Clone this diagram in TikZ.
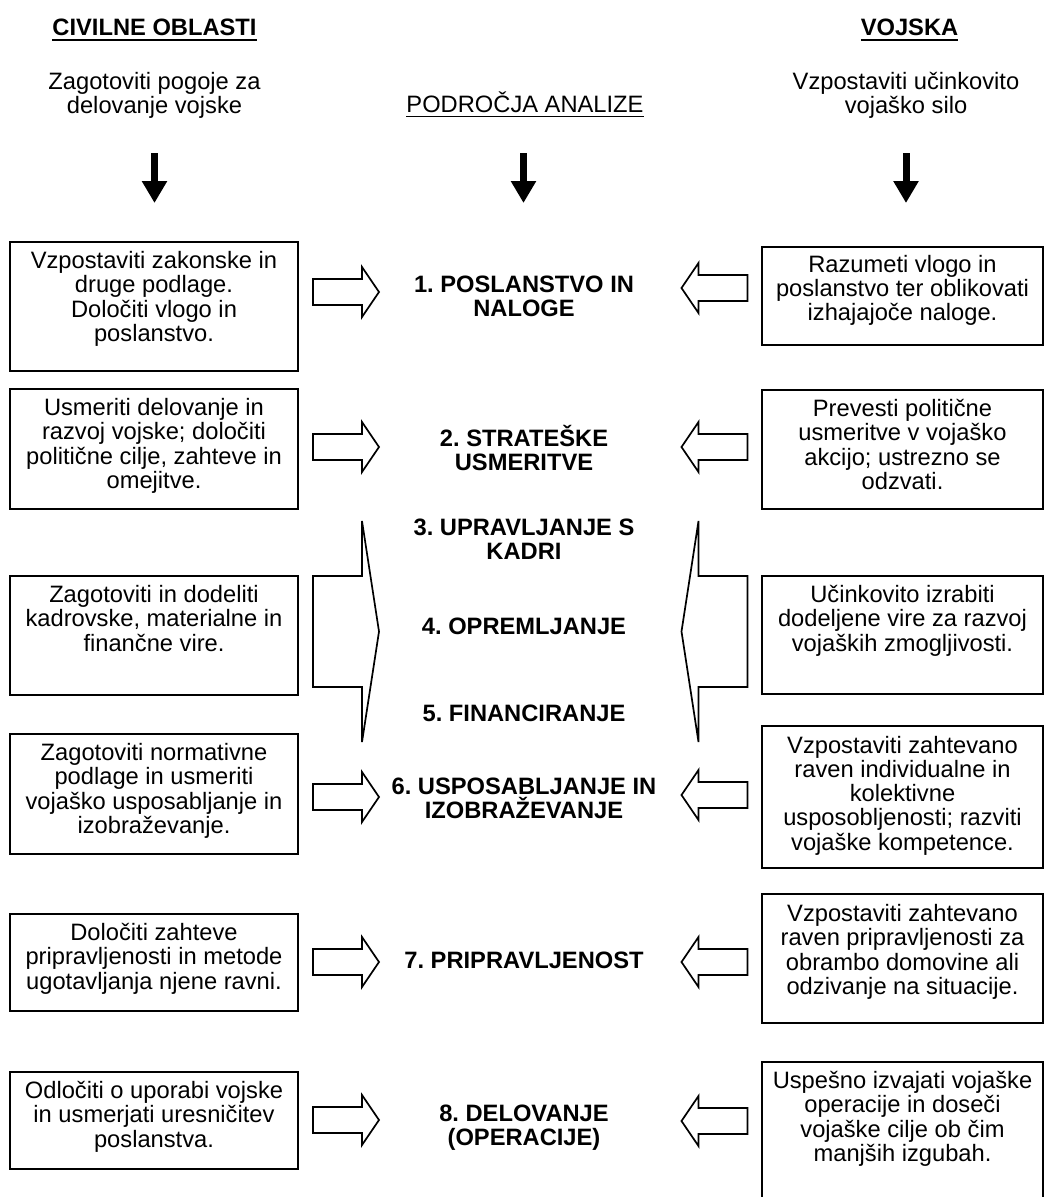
\documentclass[tikz,border=0pt]{standalone}
\usepackage{fontspec}
\setmainfont{Liberation Sans}
\usetikzlibrary{arrows.meta}
\frenchspacing
% body font: 23.7pt on 24.3pt lines, no extra lineskip for accented capitals
\newcommand\diagfont{\fontsize{23.7pt}{24.3pt}\selectfont\lineskiplimit=-100pt\lineskip=0pt\relax}
% first-line strut: puts the first baseline 24pt below the top of a text node
\newcommand\fl{\rule{0pt}{24pt}}
\tikzset{
  frame/.style={draw, line width=1.7pt, inner sep=0pt, outer sep=0pt, anchor=north west},
  txt/.style={inner sep=0pt, outer sep=0pt, align=center, anchor=north, font=\diagfont},
  lbl/.style={txt, font=\diagfont\bfseries},
  blk/.style={draw, line width=1.7pt, line join=miter, fill=white},
  uline/.style={line width=1.7pt},
  down/.style={line width=7pt, -{Triangle[width=24pt,length=22pt]}},
  pics/toright/.style={code={
    \draw[blk] (-33,-13) -- (16,-13) -- (16,-25) -- (33,0) -- (16,25) -- (16,13) -- (-33,13) -- cycle;}},
  pics/bigright/.style={code={
    \draw[blk] (-33,-55.5) -- (16,-55.5) -- (16,-110.5) -- (33,0) -- (16,110.5) -- (16,55.5) -- (-33,55.5) -- cycle;}},
}
\begin{document}
\begin{tikzpicture}[x=1pt, y=-1pt]
\useasboundingbox (0,0) rectangle (1045,1197);

% ---- column headings ----
\node[lbl] (hciv) at (154.5,11) {\fl CIVILNE OBLASTI};
\node[lbl] (hvoj) at (909.5,11) {\fl VOJSKA};
\draw[uline] ([yshift=-29pt]hciv.north west) -- ([yshift=-29pt]hciv.north east);
\draw[uline] ([yshift=-29pt]hvoj.north west) -- ([yshift=-29pt]hvoj.north east);

\node[txt] (gciv) at (154.5,65) {\fl Zagotoviti pogoje za\\delovanje vojske};
\node[txt] (gvoj) at (906,65) {\fl Vzpostaviti učinkovito\\vojaško silo};
\node[txt] (hana) at (525,88) {\fl PODROČJA ANALIZE};
\draw[line width=1.4pt] ([yshift=-28.5pt]hana.north west) -- ([yshift=-28.5pt]hana.north east);

% ---- downward arrows ----
\coordinate (d1s) at (154.5,153); \coordinate (d1e) at (154.5,203);
\coordinate (d2s) at (523.5,153); \coordinate (d2e) at (523.5,203);
\coordinate (d3s) at (906,153);   \coordinate (d3e) at (906,203);
\draw[down] (d1s) -- (d1e);
\draw[down] (d2s) -- (d2e);
\draw[down] (d3s) -- (d3e);

% ---- left column boxes ----
\node[frame, minimum width=288pt, minimum height=129pt] (L1) at (10,242) {};
\node[frame, minimum width=288pt, minimum height=120pt] (L2) at (10,389) {};
\node[frame, minimum width=288pt, minimum height=119pt] (L3) at (10,576) {};
\node[frame, minimum width=288pt, minimum height=120pt] (L4) at (10,734) {};
\node[frame, minimum width=288pt, minimum height=97pt]  (L5) at (10,914) {};
\node[frame, minimum width=288pt, minimum height=97pt]  (L6) at (10,1072) {};

\node[txt] at ([yshift=-2.5pt]L1.north) {\fl Vzpostaviti zakonske in\\druge podlage.\\Določiti vlogo in\\poslanstvo.};
\node[txt] at ([yshift=-2.5pt]L2.north) {\fl Usmeriti delovanje in\\razvoj vojske; določiti\\politične cilje, zahteve in\\omejitve.};
\node[txt] at ([yshift=-2.5pt]L3.north) {\fl Zagotoviti in dodeliti\\kadrovske, materialne in\\finančne vire.};
\node[txt] at ([yshift=-2.5pt]L4.north) {\fl Zagotoviti normativne\\podlage in usmeriti\\vojaško usposabljanje in\\izobraževanje.};
\node[txt] at ([yshift=-2.5pt]L5.north) {\fl Določiti zahteve\\pripravljenosti in metode\\ugotavljanja njene ravni.};
\node[txt] at ([yshift=-2.5pt]L6.north) {\fl Odločiti o uporabi vojske\\in usmerjati uresničitev\\poslanstva.};

% ---- right column boxes ----
\node[frame, minimum width=281pt, minimum height=98pt]  (R1) at (762,247) {};
\node[frame, minimum width=281pt, minimum height=119pt] (R2) at (762,390) {};
\node[frame, minimum width=281pt, minimum height=118pt] (R3) at (762,576) {};
\node[frame, minimum width=281pt, minimum height=142pt] (R4) at (762,726) {};
\node[frame, minimum width=281pt, minimum height=129pt] (R5) at (762,894) {};
\node[frame, minimum width=281pt, minimum height=140pt] (R6) at (762,1062) {};

\node[txt] at ([yshift=-1pt]R1.north) {\fl Razumeti vlogo in\\poslanstvo ter oblikovati\\izhajajoče naloge.};
\node[txt] at ([yshift=-2.5pt]R2.north) {\fl Prevesti politične\\usmeritve v vojaško\\akcijo; ustrezno se\\odzvati.};
\node[txt] at ([yshift=-2.5pt]R3.north) {\fl Učinkovito izrabiti\\dodeljene vire za razvoj\\vojaških zmogljivosti.};
\node[txt] at ([yshift=-3pt]R4.north) {\fl Vzpostaviti zahtevano\\raven individualne in\\kolektivne\\usposobljenosti; razviti\\vojaške kompetence.};
\node[txt] at ([yshift=-3.5pt]R5.north) {\fl Vzpostaviti zahtevano\\raven pripravljenosti za\\obrambo domovine ali\\odzivanje na situacije.};
\node[txt] at ([yshift=-2.5pt]R6.north) {\fl Uspešno izvajati vojaške\\operacije in doseči\\vojaške cilje ob čim\\manjših izgubah.};

% ---- areas of analysis ----
\node[lbl] (a1) at (524,268)  {\fl 1. POSLANSTVO IN\\NALOGE};
\node[lbl] (a2) at (524,422)  {\fl 2. STRATEŠKE\\USMERITVE};
\node[lbl] (a3) at (524,511)  {\fl 3. UPRAVLJANJE S\\KADRI};
\node[lbl] (a4) at (524,610)  {\fl 4. OPREMLJANJE};
\node[lbl] (a5) at (524,697)  {\fl 5. FINANCIRANJE};
\node[lbl] (a6) at (524,770)  {\fl 6. USPOSABLJANJE IN\\IZOBRAŽEVANJE};
\node[lbl] (a7) at (524,944)  {\fl 7. PRIPRAVLJENOST};
\node[lbl] (a8) at (524,1097) {\fl 8. DELOVANJE\\(OPERACIJE)};

% ---- block arrows from both sides ----
\pic at (346,292)  {toright};
\pic at (346,447)  {toright};
\pic at (346,631.5) {bigright};
\pic at (346,797)  {toright};
\pic at (346,962)  {toright};
\pic at (346,1120) {toright};

\pic[xscale=-1] at (714.5,288)  {toright};
\pic[xscale=-1] at (714.5,447)  {toright};
\pic[xscale=-1] at (714.5,631.5) {bigright};
\pic[xscale=-1] at (714.5,795)  {toright};
\pic[xscale=-1] at (714.5,962)  {toright};
\pic[xscale=-1] at (714.5,1121) {toright};
\end{tikzpicture}
\end{document}
